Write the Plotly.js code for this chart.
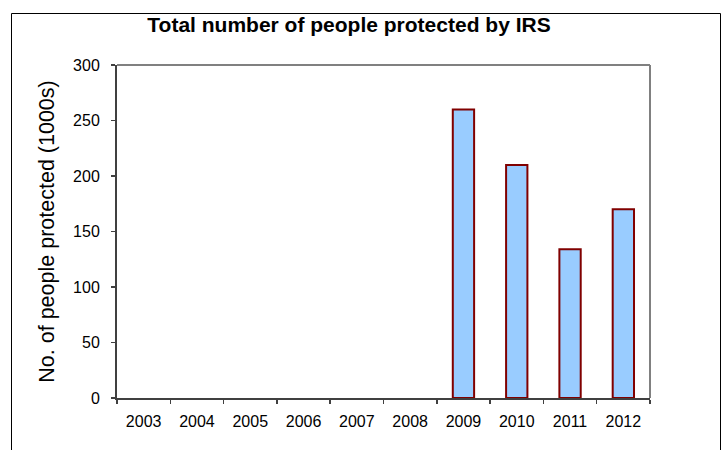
<!DOCTYPE html>
<html>
<head>
<meta charset="utf-8">
<script src="https://cdn.plot.ly/plotly-3.0.1.min.js"></script>
<style>html,body{margin:0;padding:0;background:#fff}#chart{width:725px;height:450px}</style>
</head>
<body>
<div id="chart"></div>
<script>
const years = ['2003','2004','2005','2006','2007','2008','2009','2010','2011','2012'];
const peopleProtected = [null, null, null, null, null, null, 260, 210, 134, 170];
const yTicks = [0, 50, 100, 150, 200, 250, 300];

const trace = {
  type: 'bar',
  x: years,
  y: peopleProtected,
  marker: { color: '#99ccff', line: { color: '#800000', width: 2 } },
  hoverinfo: 'x+y'
};

const layout = {
  width: 725, height: 450,
  margin: { l: 117, r: 75, t: 65, b: 52 },
  paper_bgcolor: '#ffffff', plot_bgcolor: '#ffffff',
  font: { family: 'Liberation Sans, Arial, sans-serif', color: '#000', size: 16 },
  showlegend: false,
  bargap: 0.6,
  title: {
    text: '<b>Total number of people protected by IRS</b>',
    font: { size: 21, family: 'Liberation Sans, Arial, sans-serif', color: '#000' },
    x: 349 / 725, xref: 'container', xanchor: 'center',
    y: 1 - 25 / 450, yref: 'container', yanchor: 'middle'
  },
  xaxis: {
    type: 'category',
    tickvals: years, ticktext: years,
    showgrid: false, zeroline: false,
    showline: true, linecolor: '#404040', linewidth: 2,
    ticks: 'outside', tickson: 'boundaries', ticklen: 4, tickwidth: 1.5, tickcolor: '#404040',
    tickfont: { size: 16 },
    ticklabelstandoff: 8
  },
  yaxis: {
    range: [0, 300],
    tickvals: yTicks,
    showgrid: false, zeroline: false,
    showline: true, linecolor: '#404040', linewidth: 2,
    ticks: 'outside', ticklen: 4, tickwidth: 1.5, tickcolor: '#404040',
    tickfont: { size: 16 },
    ticklabelstandoff: 8,
    title: { text: 'No. of people protected (1000s)', font: { size: 21.5 }, standoff: 13 }
  },
  shapes: [
    { type: 'line', xref: 'paper', yref: 'paper', x0: 0, x1: 1, y0: 1, y1: 1, line: { color: '#808080', width: 2 } },
    { type: 'line', xref: 'paper', yref: 'paper', x0: 1, x1: 1, y0: 0, y1: 1, line: { color: '#808080', width: 2 } },
    { type: 'rect', xref: 'paper', yref: 'paper',
      x0: (11.5 - 117) / 533, x1: (720.5 - 117) / 533,
      y0: (398 - 460) / 333, y1: (398 - 13.5) / 333,
      line: { color: '#000', width: 1 }, fillcolor: 'rgba(0,0,0,0)', layer: 'below' }
  ]
};

Plotly.newPlot('chart', [trace], layout, { displayModeBar: false, staticPlot: true });
</script>
</body>
</html>
